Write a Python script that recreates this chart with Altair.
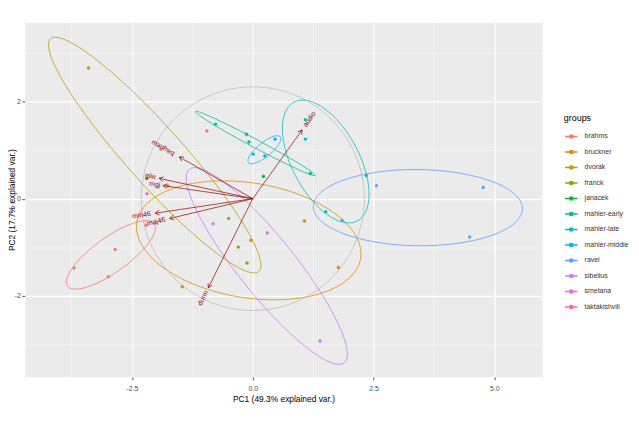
import numpy as np
import pandas as pd
import altair as alt

# ---- data ----
group_names = ["brahms", "bruckner", "dvorak", "franck", "janacek", "mahler-early",
               "mahler-late", "mahler-middle", "ravel", "sibelius", "smetana", "taktakishvili"]
group_colors = ["#F8766D", "#DE8C00", "#B79F00", "#7CAE00", "#00BA38", "#00C08B",
                "#00BFC4", "#00B4F0", "#619CFF", "#C77CFF", "#F564E3", "#FF64B0"]

point_group = ["brahms", "brahms", "brahms", "brahms",
               "bruckner", "bruckner", "bruckner", "bruckner", "bruckner",
               "dvorak", "dvorak", "dvorak",
               "franck", "franck",
               "janacek",
               "mahler-early", "mahler-early", "mahler-early", "mahler-early",
               "mahler-late", "mahler-late", "mahler-late", "mahler-late",
               "mahler-middle", "mahler-middle", "mahler-middle",
               "ravel", "ravel", "ravel", "ravel",
               "sibelius", "sibelius", "sibelius",
               "smetana",
               "taktakishvili"]
point_pc1 = [-2.21, -2.85, -3.70, -2.99,
             -1.76, 1.07, -0.04, -1.46, 1.77,
             -3.40, -2.19, -0.50,
             -0.30, -0.12,
             0.22,
             -0.77, -0.13, -0.08, 1.19,
             1.09, 1.09, 2.35, 1.51,
             0.46, 0.01, 0.25,
             1.85, 2.56, 4.77, 4.49,
             -0.82, 0.30, 1.39,
             -2.19,
             -0.95]
point_pc2 = [-0.55, -1.05, -1.43, -1.61,
             0.26, -0.46, -0.86, -1.82, -1.42,
             2.70, 0.41, -0.41,
             -1.00, -1.33,
             0.46,
             1.54, 1.33, 1.17, 0.52,
             1.63, 1.23, 0.48, -0.27,
             1.23, 0.92, 0.88,
             -0.45, 0.27, 0.23, -0.79,
             -0.52, -0.71, -2.94,
             0.10,
             1.40]

var_names = ["magfreq", "glin", "mgj", "min46", "maj46", "durm", "audio"]
var_pc1 = [-1.52, -1.94, -1.86, -2.02, -1.72, -0.92, 1.02]
var_pc2 = [0.86, 0.42, 0.27, -0.30, -0.41, -1.84, 1.42]

circle_radius = 2.31
ellipse_prob = 0.68

x_title = "PC1 (49.3% explained var.)"
y_title = "PC2 (17.7% explained var.)"

# ---- derived tables ----
pts = pd.DataFrame({"group": point_group, "pc1": point_pc1, "pc2": point_pc2})

ed = np.sqrt(-2.0 * np.log(1.0 - ellipse_prob))
theta = np.linspace(-np.pi, np.pi, 121)
unit = np.column_stack([np.cos(theta), np.sin(theta)])
ell_rows = []
for g in group_names:
    sub = pts[pts["group"] == g][["pc1", "pc2"]].values
    if len(sub) <= 2:
        continue
    sigma = np.cov(sub.T)
    R = np.linalg.cholesky(sigma).T
    mu = sub.mean(axis=0)
    e = unit @ R * ed + mu
    for i, (a, b) in enumerate(e):
        ell_rows.append({"group": g, "pc1": a, "pc2": b, "ord": i})
ell = pd.DataFrame(ell_rows)

circ = pd.DataFrame({"pc1": circle_radius * np.cos(theta),
                     "pc2": circle_radius * np.sin(theta),
                     "ord": np.arange(len(theta))})

arr = pd.DataFrame({"name": var_names, "pc1": var_pc1, "pc2": var_pc2})
arr["ox"] = 0.0
arr["oy"] = 0.0
arr["head"] = (-np.degrees(np.arctan2(arr["pc2"], arr["pc1"]))) % 360

# ---- scales / axes ----
xscale = alt.Scale(domain=[-4.72, 5.99], nice=False, zero=False)
yscale = alt.Scale(domain=[-3.68, 3.64], nice=False, zero=False)

axis_common = dict(domain=False, gridColor="white", tickColor="#333333", tickWidth=0.8,
                   tickSize=3, labelColor="#4D4D4D", labelFontSize=7,
                   labelFont="Liberation Sans", titleFont="Liberation Sans",
                   titleFontSize=8.5, titleFontWeight="normal", titleColor="black")

xaxis = alt.Axis(values=[-3.75, -2.5, -1.25, 0, 1.25, 2.5, 3.75, 5],
                 labelExpr="datum.value % 2.5 == 0 ? (datum.value < 0 ? '-' : '') + format(abs(datum.value), '.1f') : ''",
                 gridWidth={"condition": {"test": "datum.value % 2.5 != 0", "value": 0.5}, "value": 1.1},
                 tickOpacity={"condition": {"test": "datum.value % 2.5 != 0", "value": 0}, "value": 1},
                 labelPadding=5, titlePadding=3, **axis_common)
yaxis = alt.Axis(values=[-3, -2, -1, 0, 1, 2, 3],
                 labelExpr="datum.value % 2 == 0 ? (datum.value < 0 ? '-' : '') + format(abs(datum.value), 'd') : ''",
                 gridWidth={"condition": {"test": "datum.value % 2 != 0", "value": 0.5}, "value": 1.1},
                 tickOpacity={"condition": {"test": "datum.value % 2 != 0", "value": 0}, "value": 1},
                 labelPadding=1.5, titleX=-8, titleBaseline="bottom", **axis_common)


def X(field):
    return alt.X(field, type="quantitative", scale=xscale, axis=xaxis, title=x_title)


def Y(field):
    return alt.Y(field, type="quantitative", scale=yscale, axis=yaxis, title=y_title)


cscale = alt.Scale(domain=group_names, range=group_colors)
legend_symbol = "M-1,0L1,0M-0.2,-0.2L0.2,-0.2L0.2,0.2L-0.2,0.2Z"
color_line = alt.Color("group:N", scale=cscale,
                       legend=alt.Legend(title="groups", orient="none", legendX=546, legendY=93,
                                         symbolType=legend_symbol, symbolSize=160,
                                         symbolStrokeWidth=1.4, labelFontSize=7, labelColor="#333333",
                                         labelFont="Liberation Sans", titleFont="Liberation Sans",
                                         titleFontSize=9, titleFontWeight="normal", titleColor="black",
                                         rowPadding=3.7, labelOffset=6, titlePadding=6))
color_pt = alt.Color("group:N", scale=cscale, legend=None)

circle_layer = alt.Chart(circ).mark_line(color="#B5B5B5", strokeWidth=0.7).encode(
    x=X("pc1"), y=Y("pc2"), order="ord:Q")

ell_layer = alt.Chart(ell).mark_line(strokeWidth=0.8).encode(
    x=X("pc1"), y=Y("pc2"), color=color_line, detail="group:N", order="ord:Q")

pt_layer = alt.Chart(pts).mark_circle(size=12, opacity=1).encode(
    x=X("pc1"), y=Y("pc2"), color=color_pt)

arrow_layer = alt.Chart(arr).mark_rule(color="#8B0000", strokeWidth=0.7).encode(
    x=X("ox"), y=Y("oy"), x2="pc1", y2="pc2")

head_layer = alt.Chart(arr).mark_point(shape="M-1.73,-1L0,0L-1.73,1", filled=False,
                                       color="#8B0000", strokeWidth=0.7, size=22, opacity=1).encode(
    x=X("pc1"), y=Y("pc2"), angle=alt.Angle("head:Q", scale=None))

text_layers = []
for i, name in enumerate(var_names):
    vx, vy = var_pc1[i], var_pc2[i]
    ang = (-np.degrees(np.arctan(vy / vx))) % 360
    gap = 0.25 * len(name) * 3.6
    text_layers.append(
        alt.Chart(arr.iloc[[i]]).mark_text(
            angle=float(ang), align="right" if vx < 0 else "left",
            dx=-gap if vx < 0 else gap, baseline="middle",
            fontSize=7, font="Liberation Sans", color="#8B0000").encode(
            x=X("pc1"), y=Y("pc2"), text="name:N"))

chart = alt.layer(ell_layer, circle_layer, pt_layer, arrow_layer, head_layer, *text_layers).properties(
    width=524, height=359,
    autosize=alt.AutoSizeParams(type="none"),
    padding={"left": 17, "top": 12, "right": 90, "bottom": 34},
).configure_view(fill="#EBEBEB", stroke="transparent")

chart.save("out.html", embed_options={"renderer": "svg", "actions": False})
